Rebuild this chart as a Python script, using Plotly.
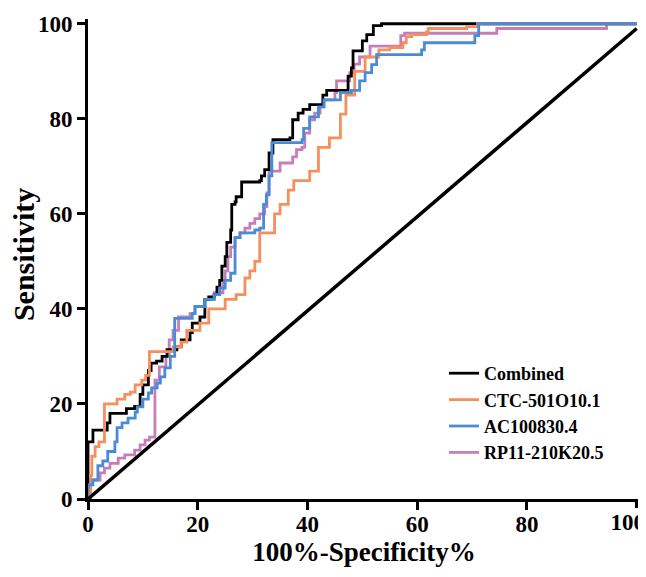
import plotly.graph_objects as go

# Combined (black)
comb_x = [0, 0, 0.9, 3.5, 4, 7, 8.5, 9.5, 10, 11, 11.5, 12.5, 13.5, 14.4, 16.2, 17, 18.6, 19, 20.4, 21.3, 22, 23,
          23.5, 24, 24.4, 25, 25.3, 26, 26.2, 26.8, 27, 28, 31.3, 31.6, 32.2, 33, 33.7, 36.8, 37.3, 38.3, 39.2,
          40.4, 42.8, 43.5, 47.4, 48, 48.3, 50, 50.8, 52, 53.5, 100]
comb_y = [0, 12, 14.5, 16, 18, 19, 19.5, 22, 24, 27, 28.6, 29, 30, 31.4, 32, 33.5, 35, 37, 38.3, 42, 42.5, 43,
          44.6, 46, 49, 51, 54, 56.6, 62, 62.5, 63.6, 66.7, 67, 68, 69.3, 72.8, 75.6, 76, 79.8, 81.2, 82,
          83, 85, 86, 89, 90.7, 94.3, 96.4, 97.7, 99.6, 100, 100]

# CTC-501O10.1 (orange)
ctc_x = [0, 0.5, 0.7, 1.3, 2, 3, 5.3, 6.7, 7.7, 8.6, 9.8, 10.5, 11.2, 15.5, 17, 18, 20.4, 22, 25, 27, 28.6, 29.5,
         30.4, 31.3, 34, 35, 36.5, 37.5, 40.4, 42, 44, 46, 47, 48.6, 50.5, 53, 55, 57.4, 58, 59, 61.7, 62,
         69, 71, 100]
ctc_y = [0, 5, 9, 11, 12, 20, 21, 22, 22.5, 24, 25, 26, 31, 32, 33, 35.5, 37, 40, 42, 43, 46.5, 48,
         50, 56, 60, 62, 65, 67, 69, 74, 76, 81, 85, 90, 93, 94.5, 95, 96, 97.3, 97.7, 98.3, 99,
         99.4, 100, 100]

# AC100830.4 (blue)
ac_x = [0, 0, 0.9, 1.8, 2.7, 3.6, 4.9, 5.3, 6.2, 7.3, 8.6, 9, 10, 11, 11.6, 12.6, 13.2, 14, 15, 15.8, 19, 19.5,
        21.3, 23, 24, 25, 26, 26.8, 27.7, 30.4, 31.3, 32, 32.5, 33, 33.5, 39, 39.3, 40.4, 42, 43, 46, 48,
        49.5, 50.5, 51.7, 52.6, 60.8, 61.3, 70.5, 71.2, 100]
ac_y = [0, 3, 4, 7, 8, 10, 12, 15, 16, 17, 18.3, 19.4, 21, 22.3, 23.4, 24.4, 25.7, 27.6, 30, 38, 39, 40.5,
        42, 43, 44.4, 46, 47.5, 55, 56, 56.6, 57, 62, 64, 68, 75, 75.6, 78, 80.4, 82.5, 84, 85.5, 86,
        88, 89.7, 91.4, 93.5, 94.5, 96, 97.5, 100, 100]

# RP11-210K20.5 (purple)
rp_x = [0, 0, 2.2, 3, 4, 5.5, 6.7, 8.5, 9.5, 10.4, 11.2, 12.2, 13, 14.2, 14.8, 15.5, 16.5, 18.6, 19.5, 21.3,
        23, 24.6, 25, 25.5, 26, 26.8, 27.7, 28.6, 29.5, 30.4, 31.3, 32.2, 32.6, 33, 35, 37.3, 38, 39, 39.5,
        40.4, 41.3, 42.3, 43, 45, 45.3, 47.7, 48.5, 49.5, 51.4, 57, 57.7, 74.5, 94.5, 100]
rp_y = [0, 4, 5.5, 6.5, 7.5, 8.6, 9.3, 10.3, 11.4, 12.4, 13, 25, 27.8, 30, 33.5, 35.5, 38.3, 39, 40.5, 42,
        43.4, 46, 48, 51, 53, 55, 56, 57, 58, 59, 60, 61.5, 64.4, 69, 70.7, 72, 73.5, 74, 77,
        79.8, 81.2, 82.5, 84, 85.5, 88, 89.7, 91.5, 93, 95.3, 97.5, 98, 99, 100, 100]

ref_x = [0, 100]
ref_y = [0, 99]

tick_vals = [0, 20, 40, 60, 80, 100]
tick_text = ["0", "20", "40", "60", "80", "100"]
x_main_vals = tick_vals[:-1]
x_main_text = tick_text[:-1]
x_last_vals = tick_vals[-1:]
x_last_text = tick_text[-1:]

SERIF = "Liberation Serif"
LW = 2.8
X_RANGE = [0, 100.6]

fig = go.Figure()

fig.add_trace(go.Scatter(x=ref_x, y=ref_y, mode="lines", line=dict(color="black", width=3.5),
                         showlegend=False, hoverinfo="skip", xaxis="x2"))
fig.add_trace(go.Scatter(x=rp_x, y=rp_y, mode="lines", line=dict(color="#C67EB8", width=LW, shape="hv"),
                         name="RP11-210K20.5", legendrank=4))
fig.add_trace(go.Scatter(x=comb_x, y=comb_y, mode="lines", line=dict(color="black", width=LW, shape="hv"),
                         name="Combined", legendrank=1))
fig.add_trace(go.Scatter(x=ctc_x, y=ctc_y, mode="lines", line=dict(color="#F58F5E", width=LW, shape="hv"),
                         name="CTC-501O10.1", legendrank=2))
fig.add_trace(go.Scatter(x=ac_x, y=ac_y, mode="lines", line=dict(color="#4A8BD7", width=LW, shape="hv"),
                         name="AC100830.4", legendrank=3))

tick_font = dict(family=SERIF, size=23, color="black", weight="bold")
axis_common = dict(showgrid=False, zeroline=False, showline=True, linecolor="black", linewidth=3,
                   ticks="outside", ticklen=8, tickwidth=3, tickcolor="black",
                   automargin=False, ticklabeloverflow="allow", tickfont=tick_font)

# the page body has an 8px margin, so the figure is 8px smaller and margins are shifted
fig.update_layout(
    width=638, height=569,
    margin=dict(l=80, r=6, t=11, b=78),
    paper_bgcolor="white", plot_bgcolor="white",
    xaxis=dict(range=X_RANGE, tickvals=x_main_vals, ticktext=x_main_text, ticklabelstandoff=-6,
               title=dict(text="100%-Specificity%", standoff=6,
                          font=dict(family=SERIF, size=27, color="black", weight="bold")), **axis_common),
    xaxis2=dict(range=X_RANGE, overlaying="x", side="bottom", anchor="y", showgrid=False, zeroline=False,
                showline=False, ticks="outside", ticklen=8, tickwidth=3, tickcolor="black",
                tickvals=x_last_vals, ticktext=x_last_text, ticklabelstandoff=-6, ticklabelshift=-9,
                automargin=False, ticklabeloverflow="allow", tickfont=tick_font),
    yaxis=dict(range=[0, 101], tickvals=tick_vals, ticktext=tick_text, **axis_common),
    legend=dict(x=0.645, y=0.30, xanchor="left", yanchor="top", bgcolor="rgba(0,0,0,0)",
                font=dict(family=SERIF, size=18, color="black", weight="bold"),
                tracegroupgap=0, itemwidth=30),
    annotations=[dict(text="Sensitivity", textangle=-90, xref="paper", yref="paper",
                      x=-0.118, y=0.51, xanchor="center", yanchor="middle", showarrow=False,
                      font=dict(family=SERIF, size=30, color="black", weight="bold"))],
)

fig.write_html("out.html")
